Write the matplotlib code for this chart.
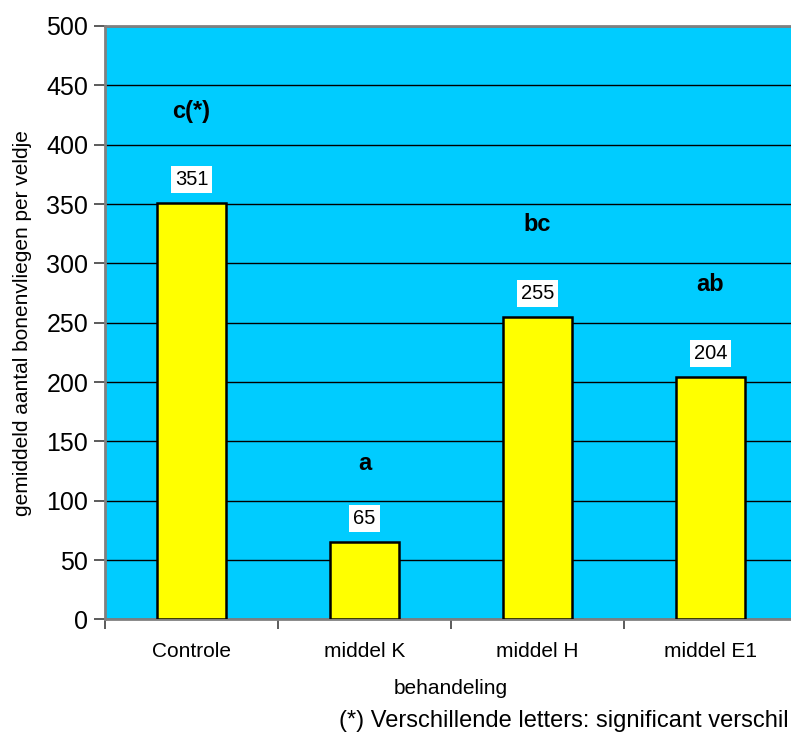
import numpy as np
import matplotlib
matplotlib.use("Agg")
import matplotlib.pyplot as plt

# data
behandelingen = ["Controle", "middel K", "middel H", "middel E1"]
gemiddeld = [351, 65, 255, 204]
letters = ["c(*)", "a", "bc", "ab"]
letter_hoogte = [428, 131, 333, 282]

plt.rcParams["font.family"] = ["Liberation Sans", "DejaVu Sans"]

fig = plt.figure(figsize=(7.91, 7.36), dpi=100)
ax = fig.add_axes([0.1327, 0.1583, 0.8748, 0.8064])
ax.set_facecolor("#00CCFF")

x = np.arange(len(behandelingen))
ax.bar(x, gemiddeld, width=0.4, color="#FFFF00", edgecolor="black",
       linewidth=1.8, zorder=3)

# waarden boven de staven
for xi, v in zip(x, gemiddeld):
    ax.annotate(str(v), (xi, v), xytext=(0, 17), textcoords="offset points",
                ha="center", va="center", fontsize=14.5, zorder=4,
                bbox=dict(boxstyle="square,pad=0.2", fc="white", ec="none"))

# significantieletters
for xi, l, h in zip(x, letters, letter_hoogte):
    ax.text(xi, h, l, ha="center", va="center", fontsize=17,
            fontweight="bold", zorder=4)

ax.set_xlim(-0.5, 3.5)
ax.set_ylim(0, 500)
ax.set_yticks(np.arange(0, 501, 50))
ax.yaxis.grid(True, color="black", linewidth=1.0, zorder=1)
ax.set_axisbelow(True)

ax.set_xticks(x)
ax.set_xticklabels(behandelingen, fontsize=15)
ax.set_xticks(np.arange(-0.5, 3.6, 1.0), minor=True)
ax.tick_params(axis="x", which="major", length=0, pad=16)
ax.tick_params(axis="x", which="minor", length=7, width=1.2, color="#404040")
ax.tick_params(axis="y", labelsize=18, length=8, width=1.2, color="#404040", pad=4)

for s in ["top", "right", "left", "bottom"]:
    ax.spines[s].set_color("#808080")
    ax.spines[s].set_linewidth(2)

ax.set_xlabel("behandeling", fontsize=15, labelpad=13)
ax.set_ylabel("gemiddeld aantal bonenvliegen per veldje", fontsize=15, labelpad=10)

fig.text(0.997, 0.020, "(*) Verschillende letters: significant verschil",
         ha="right", va="center", fontsize=17)

fig.savefig("out.png", dpi=100)
